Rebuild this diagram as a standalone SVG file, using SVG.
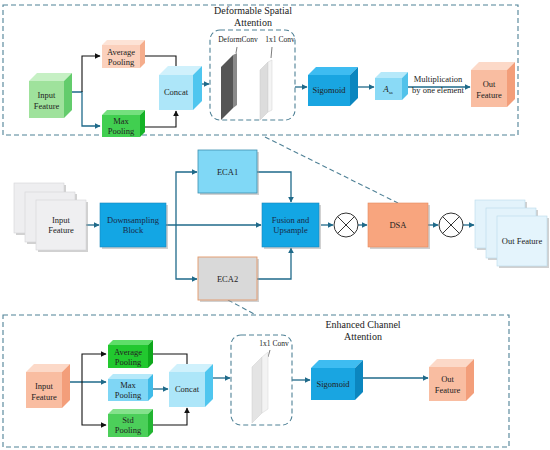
<svg xmlns="http://www.w3.org/2000/svg" width="550" height="450" viewBox="0 0 550 450">
<defs>
<marker id="at" viewBox="0 0 10 10" refX="9" refY="5" markerWidth="6" markerHeight="6" orient="auto" markerUnits="userSpaceOnUse"><path d="M0,0 L10,5 L0,10 z" fill="#1f6a8a"/></marker>
<marker id="ab" viewBox="0 0 10 10" refX="9" refY="5" markerWidth="6" markerHeight="6" orient="auto" markerUnits="userSpaceOnUse"><path d="M0,0 L10,5 L0,10 z" fill="#111"/></marker>
<linearGradient id="gbox" x1="0" y1="0" x2="1" y2="1"><stop offset="0" stop-color="#e6e6e6"/><stop offset="1" stop-color="#ffffff"/></linearGradient>
</defs>
<style>
text{font-family:"Liberation Serif","Times New Roman",serif;fill:#222;text-anchor:middle}
.t{font-size:8.5px}
.s{font-size:7.5px}
.h{font-size:10px}
.tl{stroke:#1f6a8a;stroke-width:1.3;fill:none}
.bl{stroke:#111;stroke-width:1.1;fill:none}
.dash{fill:none;stroke:#4f8196;stroke-width:1.1;stroke-dasharray:5,3}
.edge{stroke:#ffffff;stroke-width:0.4;stroke-opacity:0.6}
.shadow{fill:#9a9a9a;opacity:0.45}
</style>
<rect width="550" height="450" fill="#ffffff"/>

<!-- containers -->
<g id="dsa-panel">
<rect x="3" y="5" width="515" height="130" class="dash"/>
<text class="h" x="253" y="14">Deformable Spatial</text>
<text class="h" x="253" y="26">Attention</text>
</g>
<g id="eca-panel">
<rect x="3" y="315" width="506" height="132" class="dash"/>
<text class="h" x="363" y="328">Enhanced Channel</text>
<text class="h" x="363" y="340">Attention</text>
</g>

<!-- connectors -->
<g id="connectors">
<path class="tl" d="M72,92 H82 V126 H100" marker-end="url(#at)"/>
<path class="bl" d="M82,92 V56 H100" marker-end="url(#ab)"/>
<path class="bl" d="M145,56 H176 V73" marker-end="url(#ab)"/>
<path class="bl" d="M145,127 H176 V111" marker-end="url(#ab)"/>
<path class="tl" d="M202,84 H209" marker-end="url(#at)"/>
<path class="tl" d="M295,87 H307" marker-end="url(#at)"/>
<path class="tl" d="M358,87 H374" marker-end="url(#at)"/>
<path class="tl" d="M408,87 H470" marker-end="url(#at)"/>

<path class="tl" d="M86,225 H99" marker-end="url(#at)"/>
<path class="tl" d="M166,225 H261" marker-end="url(#at)"/>
<path class="tl" d="M176,225 V172 H197" marker-end="url(#at)"/>
<path class="tl" d="M176,225 V279 H197" marker-end="url(#at)"/>
<path class="tl" d="M257,172 H291 V202" marker-end="url(#at)"/>
<path class="tl" d="M257,279 H291 V248" marker-end="url(#at)"/>
<path class="tl" d="M321,225 H333" marker-end="url(#at)"/>
<path class="tl" d="M358,225 H367" marker-end="url(#at)"/>
<path class="tl" d="M428,225 H438" marker-end="url(#at)"/>
<path class="tl" d="M463,225 H474" marker-end="url(#at)"/>
<path class="dash" d="M265,137 L398,203"/>
<path class="dash" d="M228,300 L256,315"/>

<path class="tl" d="M70,382 H106" marker-end="url(#at)"/>
<path class="bl" d="M82,382 V354 H106" marker-end="url(#ab)"/>
<path class="bl" d="M82,382 V425 H106" marker-end="url(#ab)"/>
<path class="bl" d="M153,354 H187 V371" marker-end="url(#ab)"/>
<path class="tl" d="M153,389 H168" marker-end="url(#at)"/>
<path class="bl" d="M153,425 H187 V408" marker-end="url(#ab)"/>
<path class="tl" d="M213,378 H230" marker-end="url(#at)"/>
<path class="tl" d="M292,380 H310" marker-end="url(#at)"/>
<path class="tl" d="M363,378 H428" marker-end="url(#at)"/>
</g>

<!-- DSA panel nodes -->
<g id="dsa-input">
<polygon points="29,81 37,73 72,73 64,81" fill="#c6f0c4"/>
<polygon points="64,81 72,73 72,110 64,118" fill="#63cc6c"/>
<rect x="29" y="81" width="35" height="37" fill="#9fe29c"/>
<text class="t" x="46.5" y="98">Input</text>
<text class="t" x="46.5" y="109">Feature</text>
</g>
<g id="dsa-avgpool">
<polygon points="102,45 107,40 145,40 140,45" fill="#fde3d6"/>
<polygon points="140,45 145,40 145,63 140,68" fill="#f5ad8c"/>
<rect x="102" y="45" width="38" height="23" fill="#fbd0bc"/>
<text class="t" x="121" y="55">Average</text>
<text class="t" x="121" y="65">Pooling</text>
</g>
<g id="dsa-maxpool">
<polygon points="102,115 107,110 145,110 140,115" fill="#74e07e"/>
<polygon points="140,115 145,110 145,132 140,137" fill="#14b326"/>
<rect x="102" y="115" width="38" height="22" fill="#41cf50"/>
<text class="t" x="121" y="124">Max</text>
<text class="t" x="121" y="134">Pooling</text>
</g>
<g id="dsa-concat">
<polygon points="159,75 168,66 202,66 193,75" fill="#d0f1fc"/>
<polygon points="193,75 202,66 202,101 193,110" fill="#4fc6ef"/>
<rect x="159" y="75" width="34" height="35" fill="#ade6f9"/>
<text class="t" x="176" y="95">Concat</text>
</g>
<g id="dsa-conv">
<rect x="210" y="30" width="85" height="90" rx="10" fill="url(#gbox)" class="dash"/>
<text class="s" x="238" y="42">DeformConv</text>
<text class="s" x="280" y="42">1x1 Conv</text>
<line x1="237" y1="47" x2="236" y2="53" stroke="#444" stroke-width="0.7"/>
<line x1="272" y1="47" x2="271" y2="58" stroke="#444" stroke-width="0.7"/>
<polygon points="221,67 233,55 233,108 221,120" fill="#555"/>
<polygon points="233,55 237,53 237,105 233,108" fill="#8a8a8a"/>
<polygon points="260,70 268,62 268,112 260,120" fill="#dcdcdc" stroke="#c8c8c8" stroke-width="0.5"/>
<polygon points="268,62 272,60 272,110 268,112" fill="#f4f4f4" stroke="#d0d0d0" stroke-width="0.5"/>
</g>
<g id="dsa-sigmoid">
<polygon points="308,75 316,67 358,67 350,75" fill="#3ebcf1"/>
<polygon points="350,75 358,67 358,98 350,106" fill="#0b86bf"/>
<rect x="308" y="75" width="42" height="31" fill="#19a5e1"/>
<text class="t" x="329" y="93">Sigomoid</text>
</g>
<g id="dsa-asa">
<polygon points="375,78 381,72 408,72 402,78" fill="#b6e9fa"/>
<polygon points="402,78 408,72 408,94 402,100" fill="#52c2ea"/>
<rect x="375" y="78" width="27" height="22" fill="#8adaf6"/>
<text x="388" y="92" style="font-size:9px;font-style:italic">A<tspan style="font-size:5px;font-style:normal" dy="2">sa</tspan></text>
</g>
<g id="dsa-mult-label">
<text class="t" x="438" y="82">Multiplication</text>
<text class="t" x="438" y="93">by one element</text>
</g>
<g id="dsa-out">
<polygon points="471,70 479,62 515,62 507,70" fill="#fcd9c8"/>
<polygon points="507,70 515,62 515,99 507,107" fill="#f39e7a"/>
<rect x="471" y="70" width="36" height="37" fill="#f9bda1"/>
<text class="t" x="489" y="87">Out</text>
<text class="t" x="489" y="98">Feature</text>
</g>

<!-- middle row -->
<g id="input-stack">
<rect x="16" y="185" width="50" height="50" class="shadow"/>
<rect x="14" y="183" width="50" height="50" fill="#eeeef0" stroke="#d4d4d8" stroke-width="0.6"/>
<rect x="27" y="194" width="50" height="50" class="shadow"/>
<rect x="25" y="192" width="50" height="50" fill="#eeeef0" stroke="#d4d4d8" stroke-width="0.6"/>
<rect x="38" y="202" width="50" height="50" class="shadow"/>
<rect x="36" y="200" width="50" height="50" fill="#efeff1" stroke="#d4d4d8" stroke-width="0.6"/>
<text class="t" x="61" y="223">Input</text>
<text class="t" x="61" y="233">Feature</text>
</g>
<g id="downsampling">
<rect x="102" y="205" width="66" height="44" class="shadow"/>
<rect x="100" y="203" width="66" height="44" fill="#13a6e4" stroke="#1a86bb" stroke-width="0.6"/>
<text class="t" x="133" y="223" style="fill:#1a2a48">Downsampling</text>
<text class="t" x="133" y="233" style="fill:#1a2a48">Block</text>
</g>
<g id="eca1">
<rect x="200" y="152" width="59" height="43" class="shadow"/>
<rect x="198" y="150" width="59" height="43" fill="#80d8f6" stroke="#3d8fb0" stroke-width="0.8"/>
<text class="t" x="227.5" y="175">ECA1</text>
</g>
<g id="eca2">
<rect x="200" y="259" width="59" height="43" class="shadow"/>
<rect x="198" y="257" width="59" height="43" fill="#d9d9d9" stroke="#e39868" stroke-width="0.9"/>
<text class="t" x="227.5" y="282">ECA2</text>
</g>
<g id="fusion">
<rect x="264" y="205" width="57" height="44" class="shadow"/>
<rect x="262" y="203" width="57" height="44" fill="#13a6e4" stroke="#1a86bb" stroke-width="0.6"/>
<text class="t" x="290.5" y="223" style="fill:#1a2a48">Fusion and</text>
<text class="t" x="290.5" y="233" style="fill:#1a2a48">Upsample</text>
</g>
<g id="mult1">
<circle cx="346" cy="225" r="12" fill="#fff" stroke="#333" stroke-width="1"/>
<path d="M337.5,216.5 L354.5,233.5 M354.5,216.5 L337.5,233.5" stroke="#333" stroke-width="1"/>
</g>
<g id="dsa">
<rect x="370" y="205" width="60" height="44" class="shadow"/>
<rect x="368" y="203" width="60" height="44" fill="#f8a57e" stroke="#e3895e" stroke-width="0.6"/>
<text class="t" x="398" y="228">DSA</text>
</g>
<g id="mult2">
<circle cx="451" cy="225" r="12" fill="#fff" stroke="#333" stroke-width="1"/>
<path d="M442.5,216.5 L459.5,233.5 M459.5,216.5 L442.5,233.5" stroke="#333" stroke-width="1"/>
</g>
<g id="out-stack">
<rect x="477" y="202" width="50" height="48" class="shadow"/>
<rect x="475" y="200" width="50" height="48" fill="#e3f3fb" stroke="#b8dbea" stroke-width="0.6"/>
<rect x="488" y="210" width="50" height="50" class="shadow"/>
<rect x="486" y="208" width="50" height="50" fill="#e3f3fb" stroke="#b8dbea" stroke-width="0.6"/>
<rect x="499" y="218" width="50" height="50" class="shadow"/>
<rect x="497" y="216" width="50" height="50" fill="#e4f4fc" stroke="#b8dbea" stroke-width="0.6"/>
<text class="t" x="522" y="244">Out Feature</text>
</g>

<!-- ECA panel nodes -->
<g id="eca-input">
<polygon points="26,372 34,364 70,364 62,372" fill="#fcd9c8"/>
<polygon points="62,372 70,364 70,400 62,408" fill="#f39e7a"/>
<rect x="26" y="372" width="36" height="36" fill="#f9bda1"/>
<text class="t" x="44" y="389">Input</text>
<text class="t" x="44" y="400">Feature</text>
</g>
<g id="eca-avgpool">
<polygon points="108,345 113,340 153,340 148,345" fill="#5ede69"/>
<polygon points="148,345 153,340 153,363 148,368" fill="#0ea81c"/>
<rect x="108" y="345" width="40" height="23" fill="#22c82f"/>
<text class="t" x="128" y="355">Average</text>
<text class="t" x="128" y="365">Pooling</text>
</g>
<g id="eca-maxpool">
<polygon points="108,379 113,374 153,374 148,379" fill="#b6e9fa"/>
<polygon points="148,379 153,374 153,396 148,401" fill="#3fbbe8"/>
<rect x="108" y="379" width="40" height="22" fill="#7fd6f5"/>
<text class="t" x="128" y="388">Max</text>
<text class="t" x="128" y="398">Pooling</text>
</g>
<g id="eca-stdpool">
<polygon points="108,414 113,409 153,409 148,414" fill="#84e28c"/>
<polygon points="148,414 153,409 153,432 148,437" fill="#22b532"/>
<rect x="108" y="414" width="40" height="23" fill="#4ccf5a"/>
<text class="t" x="128" y="423">Std</text>
<text class="t" x="128" y="433">Pooling</text>
</g>
<g id="eca-concat">
<polygon points="169,372 177,364 213,364 205,372" fill="#d0f1fc"/>
<polygon points="205,372 213,364 213,399 205,407" fill="#4fc6ef"/>
<rect x="169" y="372" width="36" height="35" fill="#ade6f9"/>
<text class="t" x="187" y="392">Concat</text>
</g>
<g id="eca-conv">
<rect x="231" y="335" width="61" height="90" rx="10" fill="url(#gbox)" class="dash"/>
<text class="s" x="274" y="346">1x1 Conv</text>
<line x1="270" y1="350" x2="268" y2="357" stroke="#444" stroke-width="0.7"/>
<polygon points="252,367 262,357 262,413 252,423" fill="#e4e4e4" stroke="#cfcfcf" stroke-width="0.5"/>
<polygon points="262,357 268,352 268,409 262,413" fill="#f3f3f3" stroke="#d4d4d4" stroke-width="0.5"/>
</g>
<g id="eca-sigmoid">
<polygon points="311,368 319,360 363,360 355,368" fill="#3ebcf1"/>
<polygon points="355,368 363,360 363,392 355,400" fill="#0b86bf"/>
<rect x="311" y="368" width="44" height="32" fill="#19a5e1"/>
<text class="t" x="333" y="387">Sigomoid</text>
</g>
<g id="eca-out">
<polygon points="429,367 437,359 474,359 466,367" fill="#fcd9c8"/>
<polygon points="466,367 474,359 474,393 466,401" fill="#f39e7a"/>
<rect x="429" y="367" width="37" height="34" fill="#f9bda1"/>
<text class="t" x="447.5" y="382">Out</text>
<text class="t" x="447.5" y="393">Feature</text>
</g>
</svg>
